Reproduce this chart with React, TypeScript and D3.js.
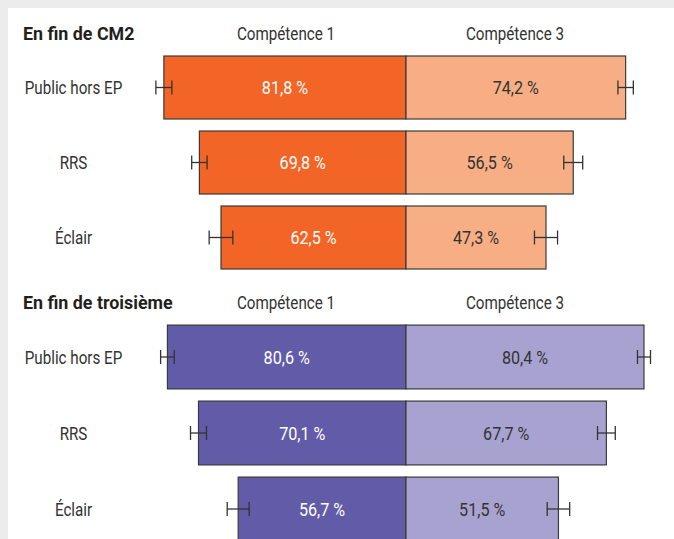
import React from "react";
import * as d3 from "d3";

const categories = ["Public hors EP", "RRS", "Éclair"];
const columns = ["Compétence 1", "Compétence 3"];
const panelTitles = ["En fin de CM2", "En fin de troisième"];

const cm2Comp1 = [81.8, 69.8, 62.5];
const cm2Comp3 = [74.2, 56.5, 47.3];
const cm2Err1 = [2.7, 2.6, 4.0];
const cm2Err3 = [2.6, 3.2, 3.9];

const t3Comp1 = [80.6, 70.1, 56.7];
const t3Comp3 = [80.4, 67.7, 51.5];
const t3Err1 = [2.3, 2.7, 3.7];
const t3Err3 = [2.2, 3.0, 3.8];

const W = 674;
const H = 539;
const CX = 406;
const FONT = "Roboto, 'Liberation Sans', sans-serif";

const panels = [
  { title: panelTitles[0], c1: cm2Comp1, c3: cm2Comp3, e1: cm2Err1, e3: cm2Err3, range: [50, 275], colors: ["#f26527", "#f7ae84"] },
  { title: panelTitles[1], c1: t3Comp1, c3: t3Comp3, e1: t3Err1, e3: t3Err3, range: [319, 547], colors: ["#625ca8", "#a8a2d1"] },
];

const fmt = (v: number) => d3.format(".1f")(v).replace(".", ",") + " %";

// condensed text: scale horizontally
function T({ x, y, children, anchor = "start", fill = "#333", weight = 400, sx = 0.8, size = 19, dy = "0" }: any) {
  return (
    <g transform={`translate(${x},${y}) scale(${sx},1)`}>
      <text dy={dy} fontSize={size} fontWeight={weight} textAnchor={anchor} fill={fill}>{children}</text>
    </g>
  );
}

export default function App() {
  const x = d3.scaleLinear().domain([0, 100]).range([0, 296]);

  return (
    <svg width={W} height={H} style={{ position: "absolute", left: 0, top: 0 }} fontFamily={FONT}>
      <rect width={W} height={H} fill="#ececec" />
      <rect x={8} y={8} width={W - 8} height={H - 8} fill="#fff" />
      {panels.map((p, pi) => {
        const y = d3.scaleBand<string>().domain(categories).range(p.range as [number, number]).paddingInner(0.16).paddingOuter(0.08);
        const top = y(categories[0])!;
        return (
          <g key={pi}>
            <T x={23} y={top - 16} weight={700} sx={0.94} fill="#231f20">{p.title}</T>
            {columns.map((c, ci) => (
              <T key={c} x={ci === 0 ? 286 : 515} y={top - 16} anchor="middle">{c}</T>
            ))}
            {categories.map((cat, i) => {
              const by = y(cat)!;
              const bh = y.bandwidth();
              const cy = by + bh / 2;
              const w1 = x(p.c1[i]);
              const w3 = x(p.c3[i]);
              const l1 = CX - w1;
              const r3 = CX + w3;
              const e1 = x(p.e1[i]);
              const e3 = x(p.e3[i]);
              return (
                <g key={cat}>
                  <T x={73.5} y={cy} dy="0.36em" anchor="middle">{cat}</T>
                  <rect x={l1} y={by} width={w1} height={bh} fill={p.colors[0]} stroke="#3a3a3a" strokeWidth={1.2} />
                  <rect x={CX} y={by} width={w3} height={bh} fill={p.colors[1]} stroke="#3a3a3a" strokeWidth={1.2} />
                  <T x={CX - w1 / 2} y={cy} dy="0.36em" anchor="middle" fill="#fff" sx={0.85}>{fmt(p.c1[i])}</T>
                  <T x={CX + w3 / 2} y={cy} dy="0.36em" anchor="middle" sx={0.85}>{fmt(p.c3[i])}</T>
                  {[[l1, e1], [r3, e3]].map(([cxp, e], k) => (
                    <g key={k} stroke="#333" strokeWidth={1.3}>
                      <line x1={cxp - e} x2={cxp + e} y1={cy} y2={cy} />
                      <line x1={cxp - e} x2={cxp - e} y1={cy - 7} y2={cy + 7} />
                      <line x1={cxp + e} x2={cxp + e} y1={cy - 7} y2={cy + 7} />
                    </g>
                  ))}
                </g>
              );
            })}
          </g>
        );
      })}
    </svg>
  );
}
